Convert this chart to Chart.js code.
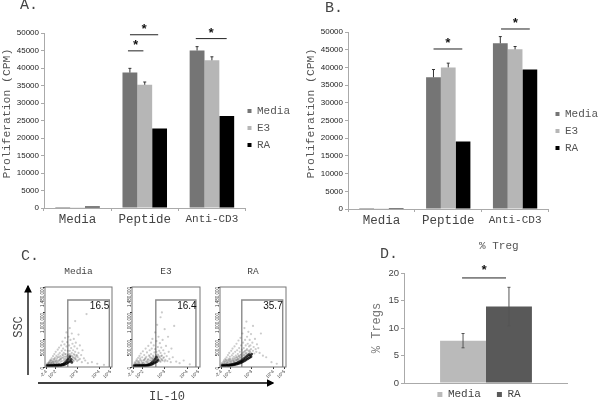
<!DOCTYPE html>
<html>
<head>
<meta charset="utf-8">
<title>Proliferation and IL-10</title>
<script src="https://cdn.jsdelivr.net/npm/chart.js@4"></script>
<style>
  body { margin: 0; background: #fff; overflow: hidden; }
  #page { position: relative; width: 600px; height: 401px; overflow: hidden; }
  #page canvas { position: absolute; }
  #flowMedia, #flowE3, #flowRA { filter: blur(0.45px); }
  .lbl { position: absolute; font-family: "Liberation Mono", monospace; color: #444; white-space: nowrap; transform: translateY(-50%); }
  #arrows { position: absolute; left: 0; top: 0; }
</style>
</head>
<body>
<div id="page">
  <canvas id="chartA"></canvas>
  <canvas id="chartB"></canvas>
  <canvas id="flowMedia"></canvas>
  <canvas id="flowE3"></canvas>
  <canvas id="flowRA"></canvas>
  <canvas id="chartD"></canvas>
  <svg id="arrows" width="600" height="401">
    <defs><marker id="tete" markerWidth="6" markerHeight="6" refX="5" refY="3" orient="auto"><path d="M0,0 L6,3 L0,6 Z" fill="#000"/></marker></defs>
    <line x1="28" y1="375" x2="28" y2="286" stroke="#000" stroke-width="1.3" marker-end="url(#tete)"/>
    <line x1="38" y1="383" x2="273" y2="383" stroke="#000" stroke-width="1.3" marker-end="url(#tete)"/>
  </svg>
  <div class="lbl" style="left:20px;top:5px;font-size:15px">A.</div>
  <div class="lbl" style="left:325px;top:8px;font-size:15px">B.</div>
  <div class="lbl" style="left:21px;top:256px;font-size:15px">C.</div>
  <div class="lbl" style="left:380px;top:254px;font-size:15px">D.</div>
  <div class="lbl" style="left:479px;top:246px;font-size:11px;color:#555">% Treg</div>
  <div class="lbl" style="left:149px;top:397px;font-size:12px">IL-10</div>
  <div class="lbl" style="left:19px;top:327px;font-size:12px;transform:translate(-50%,-50%) rotate(-90deg)">SSC</div>
</div>
<script>
const MONO = '"Liberation Mono", monospace';
const SANS = '"Liberation Sans", Arial, sans-serif';

// Panneaux A et B
const categories = ['Media', 'Peptide', 'Anti-CD3'];
const seriesNames = ['Media', 'E3', 'RA'];
const mediaA = [300, 38700, 45000];
const e3A = [250, 35200, 42200];
const raA = [400, 22700, 26300];
const mediaErrA = [0, 1200, 1100];
const e3ErrA = [0, 800, 1000];
const raErrA = [0, 0, 0];
const mediaB = [300, 37200, 46800];
const e3B = [200, 40000, 45100];
const raB = [300, 19100, 39400];
const mediaErrB = [0, 2200, 1900];
const e3ErrB = [0, 1200, 800];
const raErrB = [0, 0, 0];

// Panneau D
const tregNames = ['Media', 'RA'];
const tregValues = [7.7, 13.9];
const tregErr = [1.3, 3.5];

// Panneau C : portes et pourcentages
const flowYTicks = [0, 500, 1000, 1480];
const flowYLabels = ['0', '500,000', '1,000,000', '1,480,000'];
const flowXTicks = [2, 16, 48, 81, 98];
const flowXLabels = ['-2.4', '10^2', '10^3', '10^4', '10^5'];
const gateMediaX = [34, 34, 96, 96];
const gateE3X = [35, 35, 94, 94];
const gateRAX = [33, 33, 95, 95];
const gateY = [0, 1240, 1240, 0];
const percents = ['16.5', '16.4', '35.7'];

// Nuages lus a l'oeil sur la figure
const cloudMedia = [[3,55],[4,70],[5,48],[6,90],[6,62],[7,110],[8,75],[8,130],[9,58],[9,95],[10,160],[10,70],[11,120],[11,85],[12,200],[12,60],[13,140],[13,100],[14,240],[14,75],[15,170],[15,115],[16,90],[16,280],[17,205],[17,130],[18,70],[18,160],[19,320],[19,110],[20,230],[20,85],[21,180],[21,360],[22,130],[22,260],[23,95],[23,200],[24,400],[24,150],[25,300],[25,110],[26,230],[26,470],[27,170],[27,340],[28,120],[28,260],[29,420],[29,190],[30,540],[30,310],[31,150],[31,240],[32,380],[32,640],[33,200],[33,460],[34,300],[34,130],[35,560],[35,230],[36,400],[36,170],[37,720],[37,300],[38,500],[38,210],[39,350],[39,140],[40,620],[40,260],[41,190],[41,430],[42,310],[42,120],[43,520],[43,240],[44,170],[44,380],[45,850],[45,280],[46,140],[46,450],[47,220],[48,340],[48,110],[49,180],[50,600],[50,260],[52,150],[52,400],[54,220],[55,90],[56,310],[58,160],[60,120],[62,980],[64,70],[70,90],[78,60],[88,40],
  [6,78],[9,125],[12,95],[14,150],[17,105],[19,185],[21,125],[23,150],[25,175],[27,215],[29,145],[30,235],[31,190],[32,110],[33,165],[34,215],[35,105],[36,130],[37,240],[38,160],[39,90],[40,210],[41,135],[42,175],[43,110],[44,220],[45,150],[46,190],[48,210],[50,130]];
const denseMedia = [[3,28],[4,20],[5,34],[6,22],[7,30],[8,18],[9,36],[10,25],[11,30],[12,20],[13,38],[14,26],[15,32],[16,22],[17,40],[18,28],[19,34],[20,24],[21,42],[22,30],[23,36],[24,26],[25,48],[26,34],[27,55],[28,40],[29,70],[30,50],[31,95],[32,65],[33,120],[34,80],[35,150],[36,95],[37,190],[38,110],[39,140],[40,85]];
const cloudE3 = [[3,50],[4,85],[5,60],[6,110],[7,45],[7,140],[8,80],[9,170],[9,55],[10,105],[11,70],[11,205],[12,130],[13,50],[13,250],[14,95],[15,180],[15,65],[16,290],[17,125],[17,80],[18,220],[19,60],[19,150],[20,340],[20,100],[21,190],[22,75],[22,270],[23,135],[24,390],[24,90],[25,215],[26,120],[26,310],[27,65],[27,170],[28,450],[28,240],[29,100],[29,340],[30,150],[30,520],[31,210],[32,120],[32,400],[33,270],[33,170],[34,640],[34,330],[35,220],[35,110],[36,480],[36,280],[37,160],[37,780],[38,370],[38,230],[39,130],[39,560],[40,300],[40,190],[41,440],[41,110],[42,920],[42,260],[43,360],[43,150],[44,1010],[44,210],[45,500],[45,120],[46,310],[47,180],[48,700],[48,250],[49,130],[50,390],[51,200],[52,110],[53,560],[54,280],[55,150],[57,90],[58,340],[60,180],[62,760],[65,100],[70,70],[76,120],[85,50],
  [5,72],[8,115],[10,85],[12,160],[14,120],[16,75],[18,130],[20,165],[22,105],[24,140],[26,195],[28,125],[29,170],[30,95],[31,145],[32,190],[33,105],[34,160],[35,130],[36,200],[37,95],[38,165],[39,210],[40,120],[41,175],[42,95],[43,205],[44,130],[46,165],[48,105]];
const denseE3 = [[3,26],[4,18],[5,30],[6,22],[7,34],[8,20],[9,28],[10,18],[11,36],[12,24],[13,30],[14,20],[15,34],[16,26],[17,22],[18,32],[19,24],[20,30],[21,26],[22,36],[23,28],[24,42],[25,32],[26,55],[27,38],[28,70],[29,48],[30,90],[31,60],[32,115],[33,75],[34,145],[35,90],[36,180],[37,105],[38,130]];
const cloudRA = [[2,45],[3,70],[4,55],[5,95],[6,60],[6,125],[7,80],[8,150],[8,55],[9,105],[10,70],[10,180],[11,125],[12,85],[12,220],[13,60],[13,150],[14,110],[14,260],[15,80],[15,190],[16,135],[17,300],[17,95],[18,215],[18,70],[19,160],[19,340],[20,110],[20,250],[21,85],[21,190],[22,380],[22,140],[23,280],[23,100],[24,210],[25,430],[25,130],[26,310],[26,175],[27,100],[27,240],[28,490],[28,150],[29,350],[29,200],[30,120],[30,280],[31,540],[31,180],[32,400],[32,230],[33,150],[33,320],[34,620],[34,210],[35,450],[35,270],[36,170],[36,350],[37,720],[37,230],[38,500],[38,300],[39,190],[39,400],[40,840],[40,260],[41,560],[41,330],[42,220],[42,430],[43,300],[43,650],[44,380],[44,240],[45,500],[45,310],[46,270],[46,400],[47,610],[47,330],[48,230],[49,450],[50,300],[50,760],[51,370],[52,250],[53,520],[54,330],[55,280],[56,420],[58,350],[60,260],[62,620],[65,210],[70,180],[78,90],[86,60],
  [7,100],[9,130],[11,90],[13,125],[15,150],[16,105],[18,120],[20,140],[21,110],[23,165],[24,125],[25,180],[26,130],[27,150],[28,200],[29,125],[30,170],[31,220],[32,140],[33,190],[34,250],[35,160],[36,215],[37,280],[38,190],[39,250],[40,310],[41,220],[43,250],[45,280]];
const denseRA = [[3,24],[4,32],[5,26],[6,34],[7,22],[8,36],[9,26],[10,38],[11,28],[12,34],[13,24],[14,38],[15,30],[16,42],[17,32],[18,46],[19,36],[20,52],[21,40],[22,60],[23,46],[24,68],[25,52],[26,76],[27,58],[28,88],[29,66],[30,100],[31,76],[32,115],[33,86],[34,130],[35,100],[36,150],[37,112],[38,170],[39,128],[40,190],[41,145],[42,210],[43,160],[44,230],[45,175],[46,215],[47,190],[48,240]];

// Etoiles de significativite : x en rang de categorie, y en unites de l'axe
const sigA = [[0.75, 0.98, 44900], [0.78, 1.2, 49500], [1.76, 2.22, 48400]];
const sigB = [[0.78, 1.21, 45200], [1.79, 2.22, 50850]];
const sigD = [[-0.146, 0.122, 19.1, 7]];

Chart.defaults.animation = false;
Chart.defaults.responsive = false;

const barresErreur = {
    id: 'barresErreur',
    afterDatasetsDraw(chart) {
        const ctx = chart.ctx;
        const y = chart.scales.y;
        chart.data.datasets.forEach((ds, d) => {
            if (!ds.errUp) return;
            chart.getDatasetMeta(d).data.forEach((bar, i) => {
                if (!ds.errUp[i]) return;
                const haut = y.getPixelForValue(ds.data[i] + ds.errUp[i]);
                const bas = ds.both ? y.getPixelForValue(ds.data[i] - ds.errUp[i]) : bar.y;
                ctx.save();
                ctx.strokeStyle = ds.both ? '#555' : '#333';
                ctx.lineWidth = 1;
                ctx.beginPath();
                ctx.moveTo(bar.x, haut);
                ctx.lineTo(bar.x, bas);
                ctx.moveTo(bar.x - 1.5, haut);
                ctx.lineTo(bar.x + 1.5, haut);
                if (ds.both) {
                    ctx.moveTo(bar.x - 1.5, bas);
                    ctx.lineTo(bar.x + 1.5, bas);
                }
                ctx.stroke();
                ctx.restore();
            });
        });
    }
};

const etoiles = {
    id: 'etoiles',
    afterDraw(chart, args, opts) {
        const ctx = chart.ctx;
        (opts.lignes || []).forEach(l => {
            const x0 = chart.scales.x.getPixelForValue(l[0]);
            const x1 = chart.scales.x.getPixelForValue(l[1]);
            const y = chart.scales.y.getPixelForValue(l[2]);
            ctx.save();
            ctx.strokeStyle = '#222';
            ctx.lineWidth = 1;
            ctx.beginPath();
            ctx.moveTo(x0, y);
            ctx.lineTo(x1, y);
            ctx.stroke();
            ctx.fillStyle = '#111';
            ctx.font = 'bold 13px ' + MONO;
            ctx.textAlign = 'center';
            ctx.textBaseline = 'middle';
            ctx.fillText('*', (x0 + x1) / 2, y - (l[3] || 5));
            ctx.restore();
        });
    }
};

const cadreFlow = {
    id: 'cadreFlow',
    afterDatasetsDraw(chart, args, opts) {
        const a = chart.chartArea;
        const ctx = chart.ctx;
        ctx.save();
        ctx.strokeStyle = '#777';
        ctx.lineWidth = 1;
        ctx.strokeRect(a.left, a.top, a.right - a.left, a.bottom - a.top);
        ctx.fillStyle = '#111';
        ctx.font = '10px "Liberation Sans Narrow", ' + SANS;
        ctx.textAlign = 'right';
        ctx.textBaseline = 'middle';
        ctx.fillText(opts.texte, chart.scales.x.getPixelForValue(opts.xTexte), chart.scales.y.getPixelForValue(1120));
        ctx.restore();
    }
};

// Petit decalage de la legende apres le calcul des boites
const decalLegende = {
    id: 'decalLegende',
    afterLayout(chart, args, opts) {
        const leg = chart.legend;
        leg.left += opts.dx || 0;
        leg.right += opts.dx || 0;
        leg.top += opts.dy || 0;
        leg.bottom += opts.dy || 0;
    }
};

function placer(id, left, top, width, height) {
    const c = document.getElementById(id);
    c.width = width;
    c.height = height;
    c.style.left = left + 'px';
    c.style.top = top + 'px';
    return c;
}

function fixerLargeur(w) {
    return s => { s.width = w; s.paddingLeft = 0; s.paddingRight = 0; };
}

function fixerHauteur(h) {
    return s => { s.height = h; s.paddingLeft = 0; s.paddingRight = 0; };
}

function creerPanneau(c, v, e, sig, hautPad, yWidth, xHeight, dx, dy) {
    const couleurs = ['#757575', '#b6b6b6', '#000000'];
    return new Chart(c, {
        type: 'bar',
        data: {
            labels: categories,
            datasets: seriesNames.map((nom, i) => ({
                label: nom,
                data: v[i],
                errUp: e[i],
                backgroundColor: couleurs[i],
                barPercentage: 1,
                categoryPercentage: 0.663
            }))
        },
        options: {
            layout: { padding: { top: hautPad, left: 0, right: 0, bottom: 0 } },
            plugins: {
                legend: {
                    position: 'right',
                    labels: { boxWidth: 4, boxHeight: 4, padding: 6, color: '#555', font: { family: MONO, size: 11 } }
                },
                tooltip: { enabled: false },
                etoiles: { lignes: sig },
                decalLegende: { dx: dx, dy: dy }
            },
            scales: {
                x: {
                    afterFit: fixerHauteur(xHeight),
                    grid: { drawOnChartArea: false, tickLength: 3, color: '#aaa' },
                    border: { color: '#aaa' },
                    ticks: {
                        padding: 1,
                        color: '#444',
                        maxRotation: 0,
                        font: ctx => ({ family: MONO, size: ctx.index === 2 ? 11 : 12.5 })
                    }
                },
                y: {
                    min: 0,
                    max: 50000,
                    afterFit: fixerLargeur(yWidth),
                    grid: { drawOnChartArea: false, tickLength: 3, color: '#aaa' },
                    border: { color: '#aaa' },
                    ticks: { stepSize: 5000, padding: 2, color: '#222', font: { family: SANS, size: 8 }, callback: v => v },
                    title: { display: true, text: '  Proliferation (CPM)', color: '#555', padding: 0, font: { family: MONO, size: 11.4 } }
                }
            }
        },
        plugins: [barresErreur, etoiles, decalLegende]
    });
}

function creerFlow(id, left, titre, nuage, dense, gateX, texte, xTexte, boxWidth) {
    const c = placer(id, left - 14, 266, boxWidth + 17, 114);
    new Chart(c, {
        type: 'scatter',
        data: {
            datasets: [
                { data: nuage.map(p => ({ x: p[0], y: p[1] })), pointRadius: 1.1, pointBorderWidth: 0, backgroundColor: 'rgba(70,70,70,0.28)' },
                { data: dense.map(p => ({ x: p[0], y: p[1] })), pointRadius: 1.4, pointBorderWidth: 0, backgroundColor: 'rgba(0,0,0,0.75)' },
                {
                    data: gateX.map((x, i) => ({ x: x, y: gateY[i] })),
                    showLine: true,
                    pointRadius: 0,
                    borderColor: '#8a8a8a',
                    borderWidth: 1.4
                }
            ]
        },
        options: {
            layout: { padding: { top: 0, left: 0, right: 3, bottom: 0 } },
            plugins: {
                legend: { display: false },
                tooltip: { enabled: false },
                title: { display: true, fullSize: false, text: titre, color: '#444', padding: { top: 0, bottom: 9.6 }, font: { family: MONO, size: 9.5, weight: 'normal' } },
                cadreFlow: { texte: texte, xTexte: xTexte }
            },
            scales: {
                x: {
                    type: 'linear',
                    min: 0,
                    max: 100,
                    afterFit: fixerHauteur(13),
                    afterBuildTicks: s => { s.ticks = flowXTicks.map(v => ({ value: v })); },
                    grid: { drawOnChartArea: false, tickLength: 2, color: '#333' },
                    border: { display: false },
                    ticks: {
                        minRotation: 45,
                        maxRotation: 45,
                        autoSkip: false,
                        padding: 0,
                        color: '#333',
                        font: { family: SANS, size: 4.5 },
                        callback: (v, i) => flowXLabels[i]
                    }
                },
                y: {
                    min: 0,
                    max: 1480,
                    afterFit: fixerLargeur(14),
                    afterBuildTicks: s => { s.ticks = flowYTicks.map(v => ({ value: v })); },
                    grid: { drawOnChartArea: false, tickLength: 2, color: '#333' },
                    border: { display: false },
                    ticks: {
                        minRotation: 90,
                        maxRotation: 90,
                        autoSkip: false,
                        padding: 0,
                        color: '#333',
                        font: { family: SANS, size: 4.5 },
                        callback: (v, i) => flowYLabels[i]
                    }
                }
            }
        },
        plugins: [cadreFlow]
    });
}

creerPanneau(placer('chartA', 0, 0, 304, 240), [mediaA, e3A, raA], [mediaErrA, e3ErrA, raErrA], sigA, 33, 44, 32, -4, -8.5);
creerPanneau(placer('chartB', 304, 0, 303, 240), [mediaB, e3B, raB], [mediaErrB, e3ErrB, raErrB], sigB, 32, 44, 31, 1, -5);

creerFlow('flowMedia', 45, 'Media', cloudMedia, denseMedia, gateMediaX, percents[0], 96, 68);
creerFlow('flowE3', 132, 'E3', cloudE3, denseE3, gateE3X, percents[1], 95, 69);
creerFlow('flowRA', 220, 'RA', cloudRA, denseRA, gateRAX, percents[2], 95, 67);

new Chart(placer('chartD', 358, 262, 210, 159), {
    type: 'bar',
    data: {
        labels: [''],
        datasets: tregNames.map((nom, i) => ({
            label: nom,
            data: [tregValues[i]],
            errUp: [tregErr[i]],
            both: true,
            backgroundColor: ['#bababa', '#595959'][i],
            barPercentage: 1,
            categoryPercentage: 0.56
        }))
    },
    options: {
        layout: { padding: { top: 11, left: 0, right: 0, bottom: 0 } },
        plugins: {
            legend: {
                position: 'bottom',
                labels: { boxWidth: 5, boxHeight: 5, padding: 16, color: '#444', font: { family: MONO, size: 11 } }
            },
            tooltip: { enabled: false },
            etoiles: { lignes: sigD },
            decalLegende: { dx: 16, dy: -11 }
        },
        scales: {
            x: {
                grid: { display: false },
                border: { color: '#aaa' },
                ticks: { display: false },
                afterFit: fixerHauteur(1)
            },
            y: {
                min: 0,
                max: 20,
                afterFit: fixerLargeur(46),
                grid: { drawOnChartArea: false, tickLength: 3, color: '#aaa' },
                border: { color: '#aaa' },
                ticks: { stepSize: 5, padding: 2, color: '#444', font: { family: SANS, size: 9.5 } },
                title: { display: true, text: '% Tregs', color: '#777', padding: { top: 12, bottom: 0 }, font: { family: MONO, size: 12 } }
            }
        }
    },
    plugins: [barresErreur, etoiles, decalLegende]
});
</script>
</body>
</html>
